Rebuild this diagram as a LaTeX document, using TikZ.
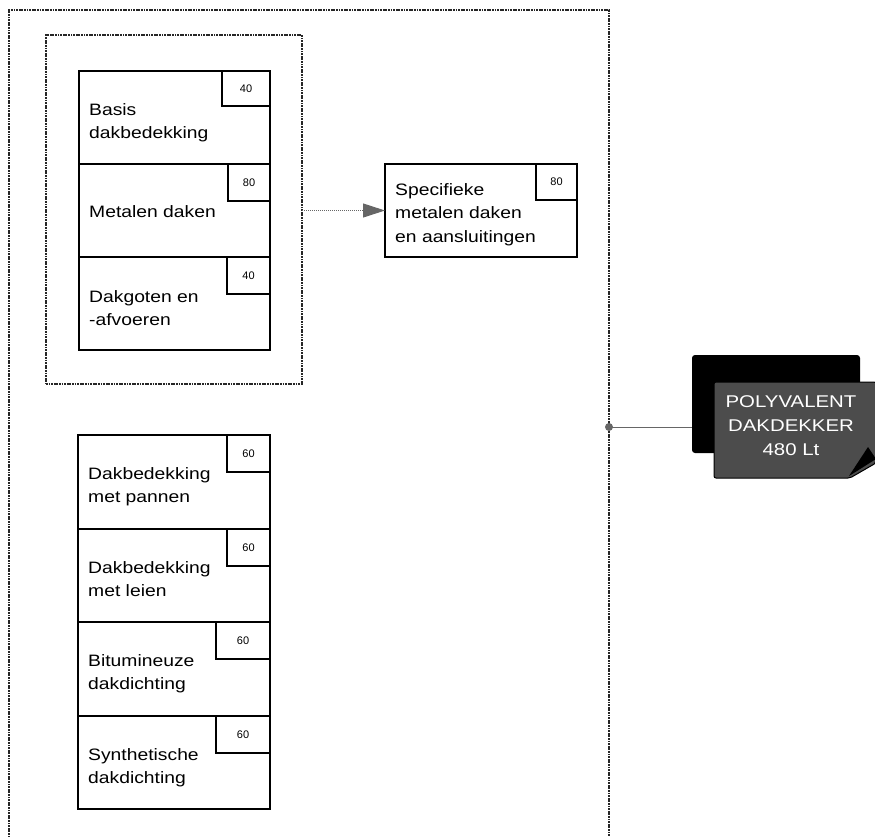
\documentclass[tikz,border=0pt]{standalone}
\usepackage{fontspec}
\setmainfont{Liberation Sans}
\usetikzlibrary{arrows.meta}
\tikzset{
  frame/.style={draw=black!85, line width=1.5pt, dash pattern=on 1.8pt off 0.8pt},
  bigbox/.style={draw=black, line width=1.4pt, fill=white, anchor=north west, inner sep=0pt, outer sep=0pt},
  tagbox/.style={draw=black, line width=1.2pt, fill=white, anchor=north west, inner sep=0pt, outer sep=0pt},
  lbl/.style={anchor=base west, align=left, inner sep=0pt, font=\fontsize{16.5}{23.5}\selectfont\addfontfeature{FakeStretch=1.17}},
  num/.style={inner sep=0pt, font=\fontsize{11}{11}\selectfont},
  cardtxt/.style={anchor=base, align=center, inner sep=0pt, text=white, font=\fontsize{17}{24}\selectfont\addfontfeature{FakeStretch=1.2}}
}
\begin{document}
\begin{tikzpicture}[x=1pt,y=-1pt]
\useasboundingbox (0,0) rectangle (875,836);
% outer frame (open at bottom)
\coordinate (ofbl) at (9,840);
\coordinate (oftl) at (9,10);
\coordinate (oftr) at (609,10);
\coordinate (ofbr) at (609,840);
\draw[frame] (ofbl) -- (oftl) -- (oftr) -- (ofbr);
% inner frame
\node[frame, anchor=north west, minimum width=256pt, minimum height=349pt, inner sep=0pt, outer sep=0pt] (inner) at (46,35) {};
% group 1
\node[bigbox, minimum width=191pt, minimum height=93pt] (basis) at (79,71) {};
\node[bigbox, minimum width=191pt, minimum height=93pt] (metaal) at (79,164) {};
\node[bigbox, minimum width=191pt, minimum height=93pt] (goten) at (79,257) {};
\node[tagbox, minimum width=48pt, minimum height=35pt] (tbasis) at (222,71) {};
\node[tagbox, minimum width=42pt, minimum height=37pt] (tmetaal) at (228,164) {};
\node[tagbox, minimum width=43pt, minimum height=37pt] (tgoten) at (227,257) {};
\node[num] (nbasis) at (tbasis.center) {40};
\node[num] (nmetaal) at (tmetaal.center) {80};
\node[num] (ngoten) at (tgoten.center) {40};
\node[lbl] (lbasis) at (89,138.5) {Basis\\dakbedekking};
\node[lbl] (lmetaal) at (89,217) {Metalen daken};
\node[lbl] (lgoten) at (89,325.5) {Dakgoten en\\-afvoeren};
% specific box
\node[bigbox, minimum width=192pt, minimum height=93pt] (spec) at (385,164) {};
\node[tagbox, minimum width=41pt, minimum height=36pt] (tspec) at (536,164) {};
\node[num] (nspec) at (tspec.center) {80};
\node[lbl] (lspec) at (395,242) {Specifieke\\metalen daken\\en aansluitingen};
\draw[black!60, densely dotted, line width=1pt, -{Triangle[length=22pt,width=14pt,fill=black!60]}] (inner.east |- spec.west) -- (spec.west);
% group 2
\node[bigbox, minimum width=192pt, minimum height=94pt] (pannen) at (78,435) {};
\node[bigbox, minimum width=192pt, minimum height=93pt] (leien) at (78,529) {};
\node[bigbox, minimum width=192pt, minimum height=94pt] (bitu) at (78,622) {};
\node[bigbox, minimum width=192pt, minimum height=93pt] (synth) at (78,716) {};
\node[tagbox, minimum width=43pt, minimum height=37pt] (tpannen) at (227,435) {};
\node[tagbox, minimum width=43pt, minimum height=37pt] (tleien) at (227,529) {};
\node[tagbox, minimum width=54pt, minimum height=37pt] (tbitu) at (216,622) {};
\node[tagbox, minimum width=54pt, minimum height=37pt] (tsynth) at (216,716) {};
\node[num] (npannen) at (tpannen.center) {60};
\node[num] (nleien) at (tleien.center) {60};
\node[num] (nbitu) at (tbitu.center) {60};
\node[num] (nsynth) at (tsynth.center) {60};
\node[lbl] (lpannen) at (88,502.5) {Dakbedekking\\met pannen};
\node[lbl] (lleien) at (88,596.5) {Dakbedekking\\met leien};
\node[lbl] (lbitu) at (88,689.5) {Bitumineuze\\dakdichting};
\node[lbl] (lsynth) at (88,783.5) {Synthetische\\dakdichting};
% role card
\node[fill=black, rounded corners=3pt, anchor=north west, minimum width=168pt, minimum height=98pt, inner sep=0pt, outer sep=0pt] (shadow) at (692,355) {};
\fill[black!70, draw=black, line width=1pt, rounded corners=2pt] (714,382) -- (876,382) -- (876,463) -- (850,478) -- (714,478) -- cycle;
\fill[black] (849,476) -- (868,447) -- (876,459) -- cycle;
\node[cardtxt] (card) at (791,455) {POLYVALENT\\DAKDEKKER\\480 Lt};
\coordinate (jn) at (609,427);
\draw[black!60, line width=0.9pt] (jn) -- (shadow.west |- jn);
\fill[black!60] (jn) circle (4pt);
\end{tikzpicture}
\end{document}
